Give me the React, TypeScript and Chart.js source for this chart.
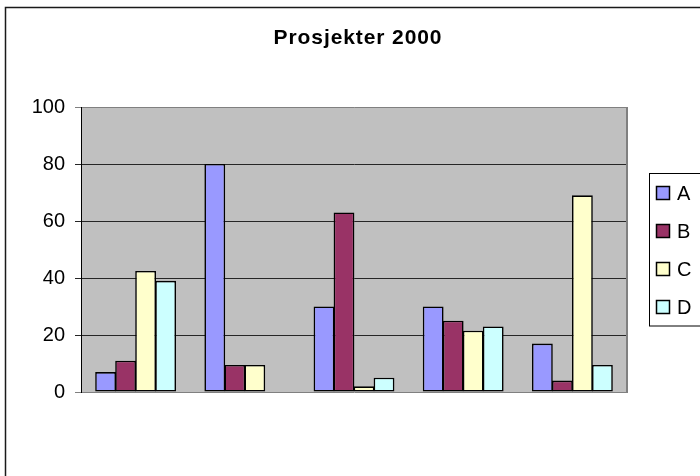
import React, { useEffect, useRef } from 'react';
import { Chart, registerables } from 'chart.js';

Chart.register(...registerables);

const titleText = 'Prosjekter 2000';
const categories = ['1', '2', '3', '4', '5'];
const seriesNames = ['A', 'B', 'C', 'D'];
const seriesA = [7, 80, 30, 30, 17];
const seriesB = [11, 9.5, 63, 25, 4];
const seriesC = [42.5, 9.5, 2, 21.5, 69];
const seriesD: (number | null)[] = [39, null, 5, 23, 9.5];
const seriesColors = ['#9999FF', '#993366', '#FFFFCC', '#CCFFFF'];
const yTicks = [0, 20, 40, 60, 80, 100];

const FONT = '"Liberation Sans", Arial, sans-serif';

const decorPlugin = {
  id: 'decor',
  beforeDraw(chart: any) {
    const { ctx, chartArea: a } = chart;
    ctx.save();
    ctx.fillStyle = '#C0C0C0';
    ctx.fillRect(a.left, a.top, a.right - a.left, a.bottom - a.top);
    ctx.restore();
  },
  beforeDatasetsDraw(chart: any) {
    const { ctx, chartArea: a } = chart;
    ctx.save();
    ctx.strokeStyle = '#808080';
    ctx.lineWidth = 2;
    ctx.beginPath();
    const x = Math.round(a.right);
    ctx.moveTo(x, Math.round(a.top));
    ctx.lineTo(x, Math.round(a.bottom) + 1);
    ctx.stroke();
    ctx.restore();
  },
  afterDraw(chart: any) {
    const { ctx } = chart;
    ctx.save();
    // outer frame
    ctx.strokeStyle = '#1a1a1a';
    ctx.lineWidth = 1.5;
    ctx.strokeRect(5.5, 7.5, 800, 800);

    // title
    ctx.fillStyle = '#000';
    ctx.font = `bold 21px ${FONT}`;
    ctx.textAlign = 'center';
    ctx.textBaseline = 'alphabetic';
    try {
      (ctx as any).letterSpacing = '0.9px';
    } catch (e) {}
    ctx.fillText(titleText, 358, 44);
    try {
      (ctx as any).letterSpacing = '0px';
    } catch (e) {}

    // legend
    const lx = 649.5;
    const ly = 173.5;
    ctx.fillStyle = '#fff';
    ctx.fillRect(lx, ly, 100, 152.5);
    ctx.strokeStyle = '#000';
    ctx.lineWidth = 1;
    ctx.strokeRect(lx, ly, 100, 152.5);
    const ds = chart.data.datasets;
    ctx.font = `20px ${FONT}`;
    ctx.textAlign = 'left';
    ctx.textBaseline = 'middle';
    ds.forEach((d: any, i: number) => {
      const cy = 193 + i * 38;
      ctx.fillStyle = d.backgroundColor;
      ctx.fillRect(656.5, cy - 6.5, 13, 13);
      ctx.strokeStyle = '#000';
      ctx.lineWidth = 1.5;
      ctx.strokeRect(656.5, cy - 6.5, 13, 13);
      ctx.fillStyle = '#000';
      ctx.fillText(d.label, 677, cy + 1);
    });
    ctx.restore();
  },
};

export default function App() {
  const ref = useRef<HTMLCanvasElement>(null);

  useEffect(() => {
    if (!ref.current) return;
    const values = [seriesA, seriesB, seriesC, seriesD];
    const chart = new Chart(ref.current, {
      type: 'bar',
      data: {
        labels: categories,
        datasets: seriesNames.map((name, i) => ({
          label: name,
          data: values[i],
          backgroundColor: seriesColors[i],
          borderColor: '#000',
          borderWidth: 1.6,
          borderSkipped: false,
          barPercentage: 1.04,
          categoryPercentage: 0.733,
        })),
      },
      options: {
        responsive: false,
        animation: false,
        layout: { padding: { left: 0, right: 73, top: 107, bottom: 84 } },
        plugins: {
          legend: { display: false },
          title: { display: false },
          tooltip: { enabled: false },
        },
        scales: {
          x: {
            display: false,
            grid: { display: false },
          },
          y: {
            min: 0,
            max: 100,
            afterBuildTicks: (scale: any) => {
              scale.ticks = yTicks.map((v) => ({ value: v }));
            },
            afterFit: (scale: any) => {
              scale.width = 81;
            },
            ticks: {
              color: '#000',
              padding: 10,
              font: { family: FONT, size: 20 },
            },
            grid: {
              color: (c: any) =>
                c.tick && (c.tick.value === 0 || c.tick.value === 100) ? '#808080' : '#262626',
              lineWidth: 1,
              tickLength: 6,
              drawTicks: true,
            },
            border: { display: true, color: '#000', width: 1 },
          },
        },
      },
      plugins: [decorPlugin],
    });
    return () => chart.destroy();
  }, []);

  return (
    <div style={{ position: 'fixed', left: 0, top: 0, width: 700, height: 476, background: '#fff' }}>
      <canvas ref={ref} width={700} height={476} />
    </div>
  );
}
